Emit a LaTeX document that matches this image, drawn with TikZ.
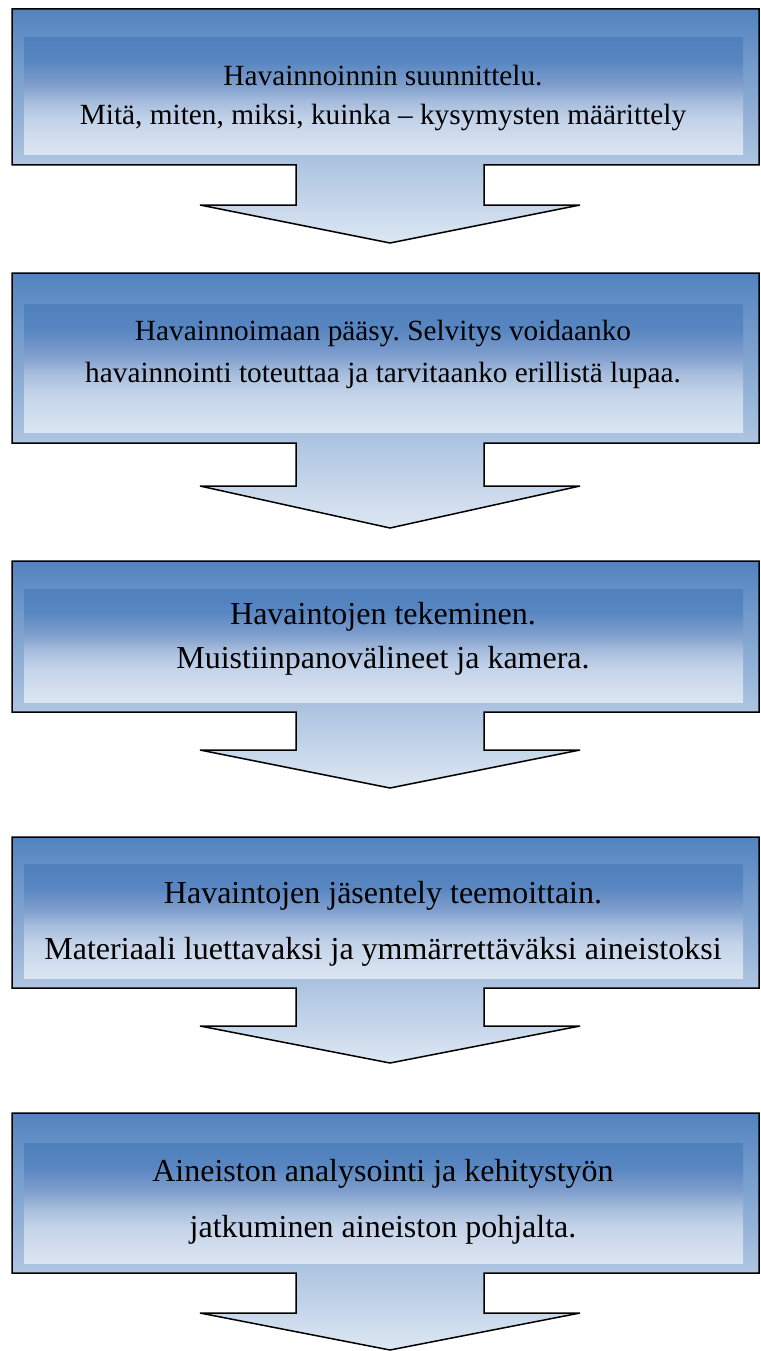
\documentclass[tikz,border=0pt]{standalone}
\usepackage{fontspec}
\setmainfont{Liberation Serif}
\frenchspacing
\definecolor{outtop}{HTML}{5283BF}
\definecolor{outbot}{HTML}{DDE7F3}
\definecolor{ibA}{HTML}{4F81BD}
\definecolor{ibB}{HTML}{5886C1}
\definecolor{ibC}{HTML}{7F9ECD}
\definecolor{ibD}{HTML}{A8BEDD}
\definecolor{ibE}{HTML}{C4D3E9}
\definecolor{ibF}{HTML}{DCE6F2}
\pgfdeclareverticalshading{innershade}{100bp}{color(0bp)=(ibF); color(25bp)=(ibF); color(40bp)=(ibE); color(47.5bp)=(ibD); color(55bp)=(ibC); color(65bp)=(ibB); color(75bp)=(ibA); color(100bp)=(ibA)}
\tikzset{
  outershape/.style={draw=black, line width=1.5pt, line join=miter, miter limit=4, shading=axis, top color=outtop, bottom color=outbot},
  innerpanel/.style={shading=innershade},
  smalltxt/.style={anchor=base, inner sep=0pt, font=\fontsize{29.3}{35}\selectfont},
  bigtxt/.style={anchor=base, inner sep=0pt, font=\fontsize{32}{38}\selectfont}
}
\begin{document}
\begin{tikzpicture}[x=1pt, y=-1pt]
\useasboundingbox (0,0) rectangle (760,1351);
\foreach \t/\it/\ib/\b/\h/\p in {9/38/155/165/205/243, 273/304/432/443/486/528, 561/589/702/712/750/788, 837/864/978/988/1026/1063, 1113/1143/1263/1273/1313/1350}{
  \path[outershape] (12,\t) -- (759,\t) -- (759,\b) -- (484,\b) -- (484,\h) -- (580,\h) -- (390,\p) -- (200,\h) -- (296,\h) -- (296,\b) -- (12,\b) -- cycle;
  \path[innerpanel] (24,\it) rectangle (743,\ib);
}
\node[smalltxt] (b1a) at (383,86) {Havainnoinnin suunnittelu.};
\node[smalltxt] (b1b) at (383,125) {Mitä, miten, miksi, kuinka – kysymysten määrittely};
\node[smalltxt] (b2a) at (383,340) {Havainnoimaan pääsy. Selvitys voidaanko};
\node[smalltxt] (b2b) at (383,382) {havainnointi toteuttaa ja tarvitaanko erillistä lupaa.};
\node[bigtxt] (b3a) at (383,624) {Havaintojen tekeminen.};
\node[bigtxt] (b3b) at (383,668) {Muistiinpanovälineet ja kamera.};
\node[bigtxt] (b4a) at (383,903) {Havaintojen jäsentely teemoittain.};
\node[bigtxt] (b4b) at (383,959) {Materiaali luettavaksi ja ymmärrettäväksi aineistoksi};
\node[bigtxt] (b5a) at (383,1181) {Aineiston analysointi ja kehitystyön};
\node[bigtxt] (b5b) at (383,1237) {jatkuminen aineiston pohjalta.};
\end{tikzpicture}
\end{document}
